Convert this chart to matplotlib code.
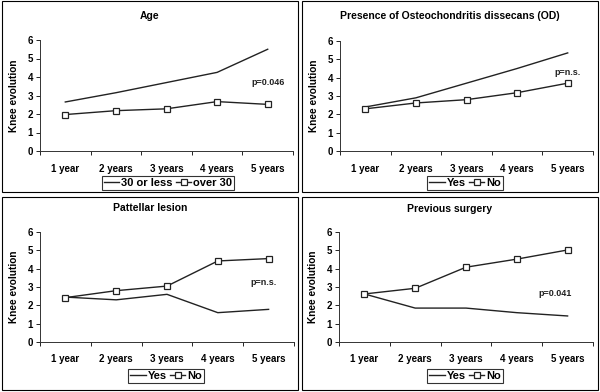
import matplotlib
matplotlib.use("Agg")
import matplotlib.pyplot as plt
from matplotlib.patches import Rectangle

plt.rcParams['font.family'] = ['Liberation Sans', 'DejaVu Sans']
plt.rcParams['font.weight'] = 'bold'

categories = ["1 year", "2 years", "3 years", "4 years", "5 years"]

age_title = "Age"
age_labels = ["30 or less", "over 30"]
age_line = [2.65, 3.15, 3.7, 4.25, 5.5]
age_sq = [1.97, 2.18, 2.28, 2.67, 2.52]
age_p = "p=0.046"

od_title = "Presence of Osteochondritis dissecans (OD)"
od_labels = ["Yes", "No"]
od_line = [2.4, 2.9, 3.7, 4.5, 5.35]
od_sq = [2.3, 2.62, 2.8, 3.18, 3.7]
od_p = "p=n.s."

pat_title = "Pattellar lesion"
pat_labels = ["Yes", "No"]
pat_line = [2.45, 2.3, 2.6, 1.6, 1.78]
pat_sq = [2.42, 2.8, 3.05, 4.42, 4.55]
pat_p = "p=n.s."

sur_title = "Previous surgery"
sur_labels = ["Yes", "No"]
sur_line = [2.62, 1.85, 1.85, 1.6, 1.42]
sur_sq = [2.62, 2.93, 4.08, 4.52, 5.02]
sur_p = "p=0.041"

W, H = 600, 392
fig = plt.figure(figsize=(6, 3.92), dpi=100)

def fbox(x0, y0, x1, y1):
    return [x0 / W, 1 - y1 / H, (x1 - x0) / W, (y1 - y0) / H]

panels = [
    dict(box=(2, 1, 298, 192), ax=(40, 40, 293, 151), title=age_title, ty=16,
         labels=age_labels, a=age_line, b=age_sq, p=age_p, pxy=(4.0, 3.7),
         leg=(168, 183)),
    dict(box=(302, 1, 598, 192), ax=(340, 41, 593, 151), title=od_title, ty=16,
         labels=od_labels, a=od_line, b=od_sq, p=od_p, pxy=(4.0, 4.3),
         leg=(465, 183)),
    dict(box=(2, 197, 298, 390), ax=(40, 232, 294, 342), title=pat_title, ty=208,
         labels=pat_labels, a=pat_line, b=pat_sq, p=pat_p, pxy=(3.9, 3.25),
         leg=(166, 376)),
    dict(box=(302, 197, 598, 390), ax=(339, 232, 593, 342), title=sur_title, ty=209,
         labels=sur_labels, a=sur_line, b=sur_sq, p=sur_p, pxy=(3.75, 2.63),
         leg=(465, 376)),
]

col = "#222222"
for P in panels:
    x0, y0, x1, y1 = P['box']
    fig.add_artist(Rectangle((x0 / W, 1 - y1 / H), (x1 - x0) / W, (y1 - y0) / H,
                             transform=fig.transFigure, fill=False,
                             edgecolor='black', linewidth=0.8))
    fig.text((x0 + x1) / 2 / W, 1 - P['ty'] / H, P['title'], ha='center', va='center',
             fontsize=7.5, fontweight='bold')
    ax = fig.add_axes(fbox(*P['ax']))
    xs = list(range(len(categories)))
    ax.plot(xs, P['a'], color=col, linewidth=1.0, label=P['labels'][0])
    ax.plot(xs, P['b'], color=col, linewidth=1.0, marker='s', markersize=4.5,
            markerfacecolor='white', markeredgecolor=col, markeredgewidth=0.9,
            label=P['labels'][1])
    ax.set_xlim(-0.5, 4.5)
    ax.set_ylim(0, 6)
    ax.set_yticks(range(7))
    ax.set_xticks(xs)
    ax.set_xticklabels(categories, fontsize=7, fontweight='bold')
    ax.set_xticks([i - 0.5 for i in range(6)], minor=True)
    ax.tick_params(axis='x', which='major', length=0, pad=9)
    ax.tick_params(axis='x', which='minor', length=3, width=0.6, direction='out')
    ax.tick_params(axis='y', length=3, width=0.6, labelsize=7, pad=2)
    for lab in ax.get_yticklabels():
        lab.set_fontweight('bold')
    for s in ['top', 'right']:
        ax.spines[s].set_visible(False)
    for s in ['left', 'bottom']:
        ax.spines[s].set_linewidth(0.7)
        ax.spines[s].set_color('#333333')
    ax.set_ylabel("Knee evolution", fontsize=7.3, fontweight='bold', labelpad=6)
    ax.text(P['pxy'][0], P['pxy'][1], P['p'], fontsize=6.5, fontweight='bold',
            ha='center', va='center', color='#222222')
    lx, ly = P['leg']
    leg = fig.legend(handles=ax.get_lines(), labels=P['labels'], loc='center',
                     bbox_to_anchor=(lx / W, 1 - ly / H), ncol=2, frameon=True,
                     fancybox=False, edgecolor='black', fontsize=8,
                     handlelength=1.4, handletextpad=0.15, columnspacing=0.3,
                     borderpad=0.2, borderaxespad=0)
    leg.get_frame().set_linewidth(0.8)
    for t in leg.get_texts():
        t.set_fontweight('bold')

fig.savefig("out.png", dpi=100)
